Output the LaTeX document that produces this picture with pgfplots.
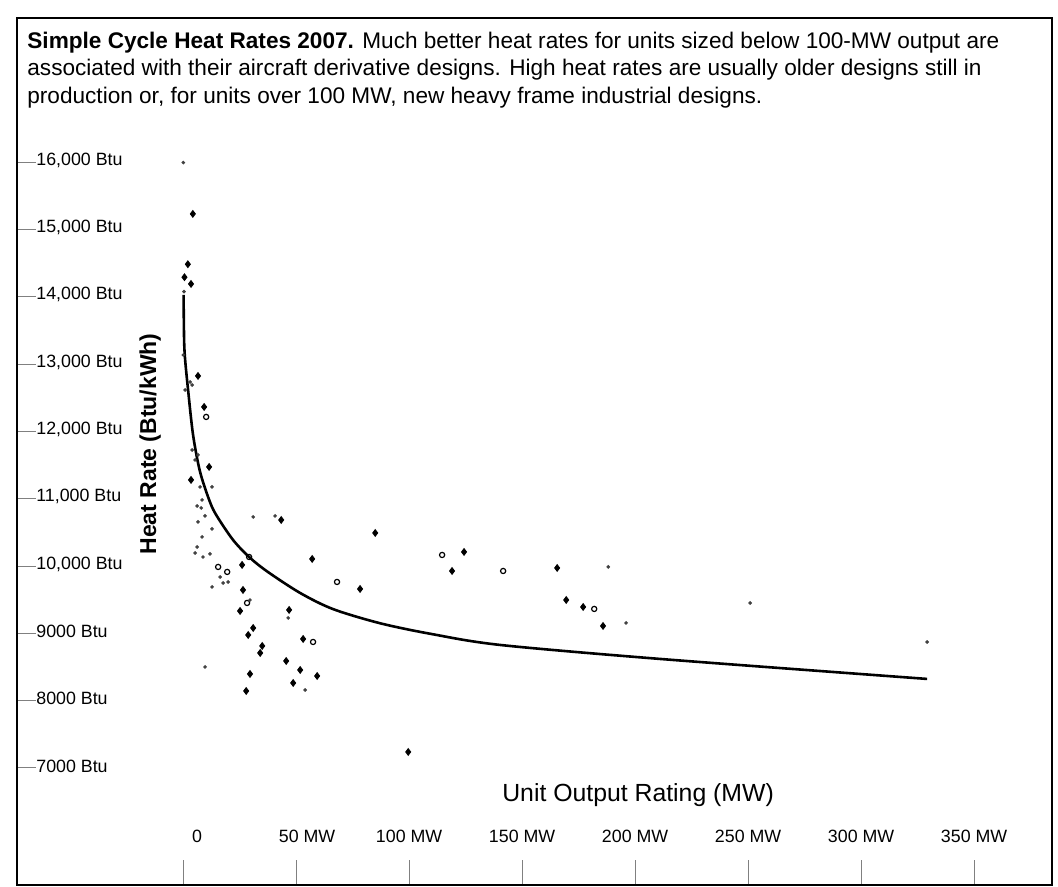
\documentclass[border=0pt]{standalone}
\usepackage{pgfplots}
\pgfplotsset{compat=1.18}
\usepackage{fontspec}
\setmainfont{Liberation Sans}
\begin{document}
\begin{tikzpicture}
\useasboundingbox (0,0) rectangle (529pt,-443.5pt);
\fill[white] (0,0) rectangle (529pt,-443.5pt);
\begin{axis}[
  at={(8.5pt,-442.5pt)}, anchor=south west,
  x=1.13pt, y=0.03365pt,
  xmin=-73.5, xmax=384.5, ymin=5261, ymax=18145,
  clip=false,
  axis line style={line width=0.8pt},
  tick align=inside, tick pos=left,
  xtick style={/pgfplots/major tick length=12.5pt, line width=0.5pt},
  ytick style={/pgfplots/major tick length=9.5pt, line width=0.5pt},
  xtick={0,50,100,150,200,250,300,350},
  xticklabels={\hspace*{14pt}0,\hspace*{11pt}50 MW,100 MW,150 MW,200 MW,250 MW,300 MW,350 MW},
  ytick={7000,8000,9000,10000,11000,12000,13000,14000,15000,16000},
  yticklabels={7000 Btu,8000 Btu,9000 Btu,{10,000 Btu},{11,000 Btu},{12,000 Btu},{13,000 Btu},{14,000 Btu},{15,000 Btu},{16,000 Btu}},
  xticklabel style={anchor=base, yshift=21.5pt, font=\fontsize{8.9}{10}\selectfont},
  yticklabel style={anchor=west, inner sep=0pt, xshift=9.5pt, yshift=1pt, font=\fontsize{8.9}{10}\selectfont},
  xlabel={Unit Output Rating (MW)},
  ylabel={Heat Rate (Btu/kWh)},
  every axis x label/.style={at={(axis cs:201.3,6599)}, anchor=center, font=\fontsize{12.4}{14}\selectfont},
  every axis y label/.style={at={(axis cs:-14.6,11815)}, anchor=center, rotate=90, font=\bfseries\fontsize{11.5}{13}\selectfont},
]
% fitted curve
\addplot[black, line width=1.3pt, smooth] table {
0.2 14030
0.44 13360
0.9 13063
2.2 12617
4.4 11950
7.5 11400
11.9 10950
15.0 10740
22.1 10388
29.2 10135
37.2 9920
51.8 9600
66.4 9360
87.2 9150
110.0 8990
140.3 8828
211.1 8620
329.2 8323
};
% filled diamonds
\addplot[only marks, mark=diamond*, mark size=1.7pt, black] table {
4.3 15233
2.1 14485
0.6 14292
3.5 14192
6.6 12825
9.3 12364
11.5 11473
3.5 11280
43.4 10685
85.0 10492
26.1 10017
57.1 10106
78.3 9660
26.5 9645
25.2 9333
28.8 8976
31.0 9080
46.9 9348
53.1 8917
45.6 8590
51.8 8456
59.3 8367
29.6 8397
48.7 8263
27.9 8144
124.3 10210
119.0 9927
165.5 9972
169.5 9496
177.0 9392
185.8 9110
99.6 7238
35.0 8813
34.1 8709
};
% hollow circles
\addplot[only marks, mark=o, mark size=1.3pt, black, mark options={line width=0.6pt}] table {
10.2 12216
29.2 10135
68.1 9764
57.5 8872
15.5 9987
19.5 9913
28.3 9452
114.6 10165
141.6 9927
181.9 9363
};
% small dots
\addplot[only marks, mark=*, mark size=0.7pt, black!75] table {
0.1 15995
0.4 14078
0.1 13137
3.1 12736
4.0 12691
0.9 12617
4.0 11725
6.6 11651
5.3 11577
7.5 11176
12.8 11176
8.4 10983
6.2 10893
8.0 10864
9.7 10745
6.6 10656
12.8 10552
8.4 10433
5.3 10195
6.2 10284
11.9 10180
8.8 10135
16.4 9838
17.7 9749
12.8 9690
19.9 9764
29.6 9496
40.7 10745
31.0 10730
46.5 9229
9.7 8501
54.0 8159
188.1 9987
196.0 9155
250.9 9452
329.2 8872
};
\end{axis}
\node[anchor=north west, inner sep=0pt, align=left, font=\fontsize{11.3}{13.75}\selectfont] at (13.5pt,-15.8pt)
{\textbf{Simple Cycle Heat Rates 2007.} Much better heat rates for units sized below 100-MW output are\\
associated with their aircraft derivative designs. High heat rates are usually older designs still in\\
production or, for units over 100 MW, new heavy frame industrial designs.};
\end{tikzpicture}
\end{document}
